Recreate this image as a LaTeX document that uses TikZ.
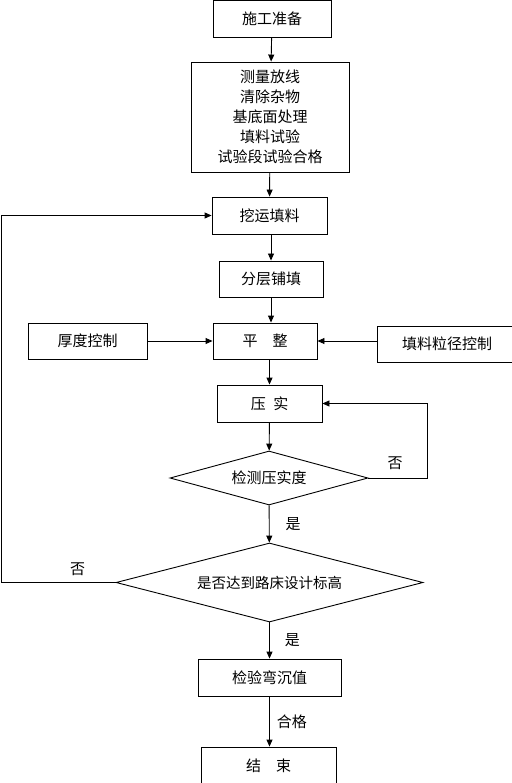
\documentclass[tikz,border=0pt]{standalone}
\usepackage{fontspec}
\setmainfont{Noto Sans CJK SC}
\usetikzlibrary{shapes.geometric, arrows.meta, positioning}

\begin{document}
\begin{tikzpicture}[
    x=1pt, y=-1pt,
    box/.style={rectangle, draw, line width=0.9pt, inner sep=0pt, minimum height=37pt, align=center, font=\fontsize{15}{20}\selectfont},
    decision/.style={diamond, draw, line width=0.9pt, inner sep=0pt, align=center, font=\fontsize{15}{20}\selectfont},
    arrow/.style={-{Triangle[length=7pt,width=6pt]}, line width=0.9pt},
    tag/.style={font=\fontsize{15}{18}\selectfont, inner sep=0pt}
]
% Page
\path[use as bounding box, fill=white] (0,0) rectangle (511,783);

% Preparation
\node[box, minimum width=118pt] (prep) at (272,18.5) {施工准备};
\node[box, minimum width=158pt, minimum height=110pt] (survey) at (270,117) {测量放线\\清除杂物\\基底面处理\\填料试验\\试验段试验合格};

% Filling
\node[box, minimum width=115pt] (haul) at (269.5,215.5) {挖运填料};
\node[box, minimum width=104pt, minimum height=36pt] (layer) at (271,279) {分层铺填};
\node[box, minimum width=104pt, minimum height=36pt] (level) at (265,341) {平　整};
\node[box, minimum width=119pt, minimum height=36pt] (thick) at (87.5,341) {厚度控制};
\node[box, minimum width=140pt, minimum height=36pt] (grain) at (447,344) {填料粒径控制};

% Compaction
\node[box, minimum width=105pt] (compact) at (269.5,403.5) {压\hspace{0.5em}实};
\node[decision, aspect=3.67, minimum width=198pt, minimum height=54pt] (check) at (269,478) {检测压实度};
\node[decision, aspect=3.89, minimum width=307pt, minimum height=79pt, font=\fontsize{14.5}{18}\selectfont] (height) at (269.5,582.5) {是否达到路床设计标高};

% Acceptance
\node[box, minimum width=143pt] (deflect) at (269.5,677.5) {检验弯沉值};
\node[box, minimum width=135pt] (finish) at (268.5,765.5) {结　束};

% Arrows
\draw[arrow] (prep) -- (survey);
\draw[arrow] (survey) -- (haul);
\draw[arrow] (layer.north |- haul.south) -- (layer.north);
\draw[arrow] (layer.south) -- (layer.south |- level.north);
\draw[arrow] (thick) -- (level);
\draw[arrow] (grain.west |- level) -- (level.east);
\draw[arrow] (compact.north |- level.south) -- (compact.north);
\draw[arrow] (compact) -- (check);
\draw[arrow] (check) -- node[tag, right=16pt] (yes1) {是} (height);
\draw[arrow] (height.south) -- node[tag, right=15pt] (yes2) {是} (height.south |- deflect.north);
\draw[arrow] (deflect.south) -- node[tag, right=7pt] (pass) {合格} (deflect.south |- finish.north);

% Loops
\draw[arrow] (check.east) -- node[tag, above=8pt, pos=0.45] (no1) {否} ++(59,0) |- (compact.east);
\coordinate (back) at (1,582.5);
\draw[arrow] (height.west) -- node[tag, above=6pt, pos=0.33] (no2) {否} (back) |- (haul.west);
\end{tikzpicture}
\end{document}
